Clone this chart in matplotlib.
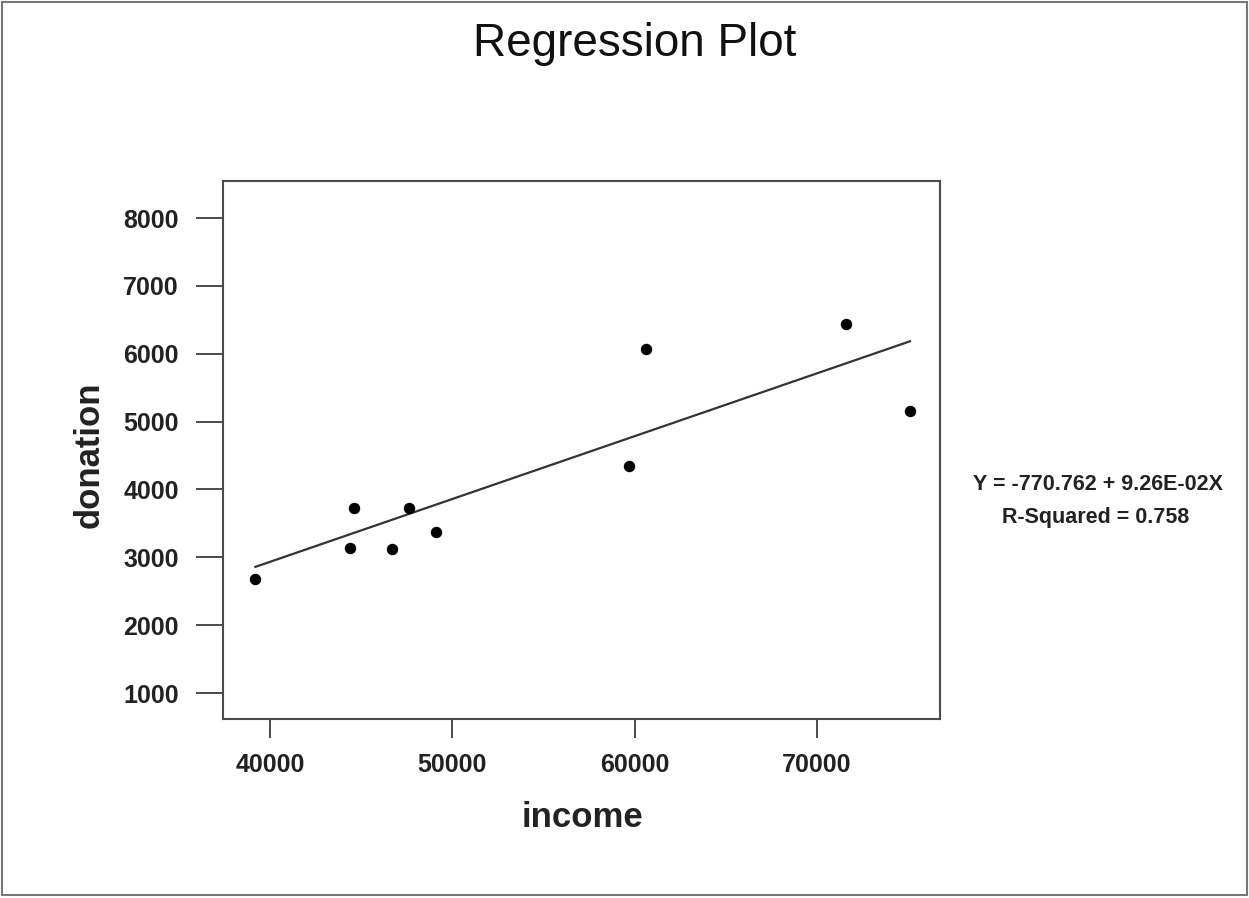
"""
Regression plot of donation against income, with the fitted line
and its equation shown to the right of the axes.
"""

import numpy as np
import matplotlib
matplotlib.use("Agg")
import matplotlib.pyplot as plt
from matplotlib.patches import Rectangle

plt.rcParams["font.family"] = ["Liberation Sans", "DejaVu Sans"]

# data
income = [39200, 44400, 44600, 46700, 47600, 49100, 59700, 60600, 71600, 75100]
donation = [2680, 3140, 3730, 3120, 3730, 3370, 4340, 6070, 6440, 5150]

intercept = -770.762
slope = 9.26e-02
r_squared = 0.758

x_ticks = [40000, 50000, 60000, 70000]
y_ticks = [1000, 2000, 3000, 4000, 5000, 6000, 7000, 8000]

GREY = "#4a4a4a"

fig = plt.figure(figsize=(12.49, 8.98), dpi=100)
fig.patch.set_facecolor("white")

# thin frame round the whole page
fig.patches.append(Rectangle((0.002, 0.003), 0.996, 0.995, transform=fig.transFigure,
                             fill=False, edgecolor="#777777", linewidth=1.5))

ax = fig.add_axes([0.1785, 0.1993, 0.5741, 0.5991])

ax.scatter(income, donation, s=52, color="black", zorder=3)

xs = np.array([min(income), max(income)])
ax.plot(xs, intercept + slope * xs, color="#333333", linewidth=1.6)

ax.set_xlim(37422, 76746)
ax.set_ylim(617, 8545)
ax.set_xticks(x_ticks)
ax.set_yticks(y_ticks)
ax.set_xticklabels([str(v) for v in x_ticks], fontweight="bold")
ax.set_yticklabels([str(v) for v in y_ticks], fontweight="bold")

for s in ax.spines.values():
    s.set_color(GREY)
    s.set_linewidth(1.5)

ax.tick_params(axis="x", direction="out", length=13.7, width=1.4, color=GREY,
               pad=10.5, labelsize=18, labelcolor="#222222")
ax.tick_params(axis="y", direction="out", length=19.4, width=1.4, color=GREY,
               pad=12.5, labelsize=18, labelcolor="#222222")

fig.text(0.5084, 0.9376, "Regression Plot", ha="center", va="baseline", fontsize=33,
         color="#111111")
fig.text(0.466, 0.0791, "income", ha="center", va="baseline", fontsize=25,
         fontweight="bold", color="#222222")
fig.text(0.0713, 0.4933, "donation", ha="center", va="center", rotation=90, fontsize=25,
         fontweight="bold", color="#222222")

fig.text(0.879, 1 - 485 / 898, f"Y = {intercept} + {slope:.2E}X",
         ha="center", va="center", fontsize=15.5, fontweight="bold", color="#222222")
fig.text(0.877, 1 - 518 / 898, f"R-Squared = {r_squared}", ha="center", va="center",
         fontsize=15.5, fontweight="bold", color="#222222")

fig.savefig("out.png", dpi=100)
plt.close(fig)
